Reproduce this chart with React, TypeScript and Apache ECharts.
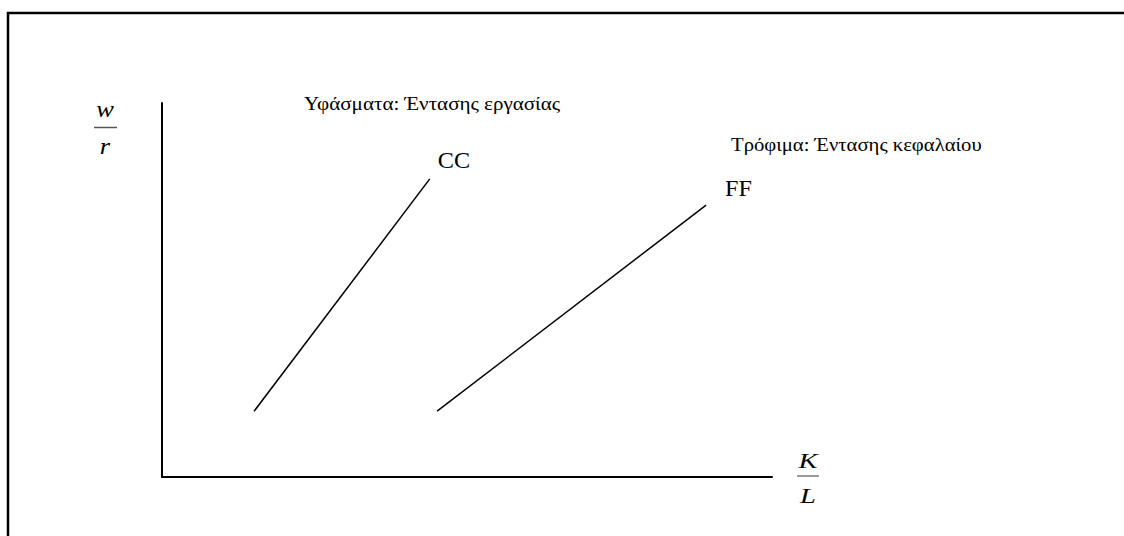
import React, { useEffect, useRef } from "react";
import * as echarts from "echarts";

// Curve endpoints (x: K/L, y: w/r, both on a 0–100 scale)
const seriesNames = ["CC", "FF"];
const ccX = [15.1, 43.9];
const ccY = [17.6, 79.7];
const ffX = [45.1, 89.2];
const ffY = [17.6, 72.7];

const noteTexts = ["Υφάσματα: Έντασης εργασίας", "Τρόφιμα: Έντασης κεφαλαίου"];
const yAxisName = ["w", "r"];
const xAxisName = ["K", "L"];

const SERIF = "'Liberation Serif', 'Times New Roman', serif";

export default function App() {
  const ref = useRef<HTMLDivElement>(null);
  useEffect(() => {
    if (!ref.current) return;
    const chart = echarts.init(ref.current, null, { renderer: "svg" });
    const pairs = (xs: number[], ys: number[]) => xs.map((x, i) => [x, ys[i]]);
    const lineSeries = (name: string, data: number[][]) => ({
      name,
      type: "line",
      data,
      symbol: "none",
      lineStyle: { color: "#000", width: 1.5 },
      silent: true,
    });
    const txt = (
      text: string,
      x: number,
      y: number,
      size: number,
      align: string,
      sx: number,
      italic = false
    ) => ({
      type: "text",
      x,
      y,
      scaleX: sx,
      silent: true,
      style: {
        text,
        fontFamily: SERIF,
        fontStyle: italic ? "italic" : "normal",
        fontSize: size,
        fill: "#000",
        align,
        verticalAlign: "middle",
      },
    });
    chart.setOption({
      animation: false,
      backgroundColor: "#fff",
      grid: { left: 162, top: 103, right: 352, bottom: 59, containLabel: false },
      xAxis: {
        type: "value",
        min: 0,
        max: 100,
        axisLine: { show: true, lineStyle: { color: "#000", width: 2 } },
        axisTick: { show: false },
        axisLabel: { show: false },
        splitLine: { show: false },
      },
      yAxis: {
        type: "value",
        min: 0,
        max: 100,
        axisLine: { show: true, lineStyle: { color: "#000", width: 2 } },
        axisTick: { show: false },
        axisLabel: { show: false },
        splitLine: { show: false },
      },
      series: [
        lineSeries(seriesNames[0], pairs(ccX, ccY)),
        lineSeries(seriesNames[1], pairs(ffX, ffY)),
      ],
    });

    // curve names placed next to the upper end of each curve, via the chart's own scales
    const ccEnd = chart.convertToPixel({ gridIndex: 0 }, [ccX[1], ccY[1]]) as number[];
    const ffEnd = chart.convertToPixel({ gridIndex: 0 }, [ffX[1], ffY[1]]) as number[];

    chart.setOption({
      graphic: [
        {
          type: "rect",
          shape: { x: 8, y: 13, width: 1200, height: 600 },
          style: { fill: "none", stroke: "#000", lineWidth: 2.5 },
          silent: true,
        },
        txt(seriesNames[0], ccEnd[0] + 8, ccEnd[1] - 19, 23, "left", 1.05),
        txt(seriesNames[1], ffEnd[0] + 19, ffEnd[1] - 17, 23, "left", 1.05),
        txt(noteTexts[0], 304, 104, 18, "left", 1.17),
        txt(noteTexts[1], 731, 145, 18, "left", 1.15),
        txt(yAxisName[0], 105, 109, 23, "center", 1.15, true),
        {
          type: "line",
          silent: true,
          shape: { x1: 94, y1: 127.5, x2: 117, y2: 127.5 },
          style: { stroke: "#555", lineWidth: 1.5 },
        },
        txt(yAxisName[1], 105, 146, 23, "center", 1.15, true),
        txt(xAxisName[0], 808, 461, 22, "center", 1.3, true),
        {
          type: "line",
          silent: true,
          shape: { x1: 797, y1: 476, x2: 819, y2: 476 },
          style: { stroke: "#777", lineWidth: 1.5 },
        },
        txt(xAxisName[1], 808, 496, 22, "center", 1.3, true),
      ],
    });
    return () => chart.dispose();
  }, []);
  return (
    <div
      ref={ref}
      style={{ position: "absolute", left: 0, top: 0, width: 1124, height: 536, background: "#fff" }}
    />
  );
}
